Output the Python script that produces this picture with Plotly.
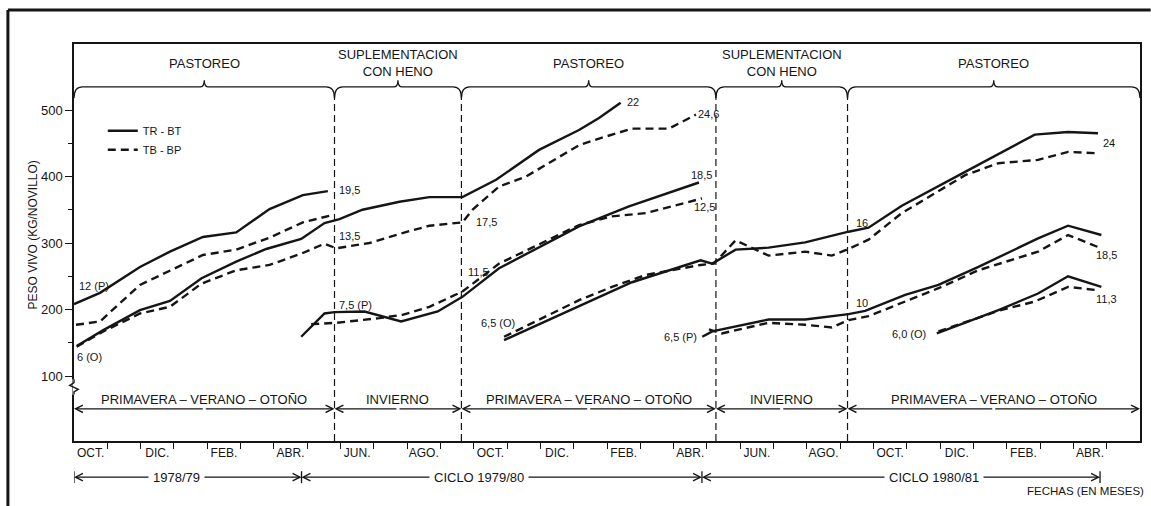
import plotly.graph_objects as go

FONT = "Liberation Sans, Arial, sans-serif"
INK = "#151515"

# ---------------- data: x = months since 1 Oct 1978, y = kg live weight / steer
# cohort "12 (P)"  (cycle 1978/79)
a_tr_x = [0.00, 0.78, 1.98, 2.88, 3.87, 4.87, 5.87, 6.87, 7.62]
a_tr_y = [208, 225, 264, 287, 309, 316, 351, 372, 378]
a_tb_x = [0.06, 0.78, 1.98, 2.88, 3.87, 4.87, 5.87, 6.87, 7.67]
a_tb_y = [177, 182, 237, 259, 282, 290, 308, 331, 341]
# cohort "6 (O)" 1978
b_tr_x = [0.08, 0.88, 1.98, 2.88, 3.83, 4.87, 5.77, 6.82, 7.52, 7.97, 8.66, 9.77,
          10.67, 11.66, 12.67, 13.96, 15.16, 15.76, 16.41]
b_tr_y = [145, 169, 199, 213, 247, 272, 291, 306, 330, 336, 350, 362,
          369, 369, 395, 440, 470, 488, 511]
b_tb_x = [0.08, 0.88, 1.98, 2.88, 3.83, 4.87, 5.87, 6.87, 7.52, 7.87, 8.87, 9.86,
          10.67, 11.66, 11.96, 12.76, 13.57, 15.16, 15.76, 16.75, 17.86, 18.67]
b_tb_y = [144, 167, 194, 204, 239, 259, 267, 285, 299, 292, 300, 315,
          326, 331, 350, 385, 400, 447, 457, 472, 472, 493]
# cohort "7,5 (P)"
c_tr_x = [6.82, 7.52, 7.82, 8.72, 9.82, 10.92, 11.66, 12.76, 15.16, 15.76, 16.66, 18.76]
c_tr_y = [159, 194, 196, 197, 182, 197, 219, 262, 325, 337, 355, 391]
c_tb_x = [7.12, 7.87, 9.17, 9.86, 10.67, 11.66, 12.76, 15.16, 15.76, 16.15, 17.17, 18.85]
c_tb_y = [178, 180, 187, 192, 204, 227, 269, 327, 335, 340, 345, 367]
# cohort "6,5 (O)" 1979
d_tr_x = [12.91, 15.16, 16.75, 18.81, 19.16, 19.86, 20.85, 21.95, 23.25, 23.85, 24.85,
          26.75, 28.84, 29.84, 30.74]
d_tr_y = [154, 205, 241, 274, 269, 290, 293, 301, 317, 323, 356, 407, 463, 467, 465]
d_tb_x = [12.91, 15.16, 16.15, 17.17, 18.81, 19.21, 19.86, 20.85, 21.95, 22.75, 23.25,
          23.85, 24.85, 26.75, 27.75, 28.94, 29.84, 30.74]
d_tb_y = [159, 214, 234, 252, 267, 269, 304, 281, 287, 281, 291, 305, 345, 402, 420,
          425, 437, 435]
# cohort "6,5 (P)"
e_tr_x = [18.86, 19.16, 20.85, 21.95, 23.25, 23.75, 24.95, 25.95, 27.15, 28.94, 29.84, 30.84]
e_tr_y = [159, 167, 185, 185, 193, 198, 222, 237, 264, 307, 326, 312]
e_tb_x = [19.06, 19.45, 20.85, 21.95, 22.75, 23.25, 23.85, 24.95, 25.95, 27.15, 28.94,
          29.84, 30.74]
e_tb_y = [170, 164, 180, 177, 173, 184, 190, 212, 232, 259, 287, 312, 294]
# cohort "6,0 (O)" 1980
f_tr_x = [25.90, 27.75, 28.94, 29.84, 30.84]
f_tr_y = [164, 199, 224, 250, 234]
f_tb_x = [25.95, 27.75, 28.84, 29.84, 30.74]
f_tb_y = [167, 198, 212, 234, 229]

# age labels (months of age): text, x, y, anchor
age_labels = [
    ("12 (P)", 0.09, 235, "left"), ("6 (O)", 0.03, 129, "left"),
    ("19,5", 7.88, 380, "left"), ("13,5", 7.88, 311, "left"),
    ("7,5 (P)", 7.88, 207, "left"), ("17,5", 12.01, 332, "left"),
    ("11,5", 11.78, 256, "left"), ("6,5 (O)", 12.16, 180, "left"),
    ("22", 16.54, 512, "left"), ("24,6", 18.67, 494, "left"),
    ("18,5", 18.46, 402, "left"), ("12,5", 18.55, 354, "left"),
    ("6,5 (P)", 18.76, 159, "right"), ("16", 23.40, 330, "left"),
    ("24", 30.83, 450, "left"), ("10", 23.40, 210, "left"),
    ("18,5", 30.62, 282, "left"), ("11,3", 30.62, 216, "left"),
    ("6,0 (O)", 25.65, 163, "right"),
]

month_labels = ["OCT.", "DIC.", "FEB.", "ABR.", "JUN.", "AGO."] * 2 + ["OCT.", "DIC.", "FEB.", "ABR."]
month_label_pos = [2 * i + 0.5 for i in range(len(month_labels))]
month_ticks = list(range(1, 32))
y_ticks = [100, 200, 300, 400, 500]
y_minor = [150, 250, 350, 450]

phase_bounds = [0, 7.82, 11.63, 19.27, 23.22, 32]
phase_names = ["PASTOREO", "SUPLEMENTACION<br>CON HENO", "PASTOREO",
               "SUPLEMENTACION<br>CON HENO", "PASTOREO"]
season_names = ["PRIMAVERA – VERANO – OTOÑO", "INVIERNO", "PRIMAVERA – VERANO – OTOÑO",
                "INVIERNO", "PRIMAVERA – VERANO – OTOÑO"]
cycle_bounds = [0, 6.83, 18.85, 30.8]
cycle_names = ["1978/79", "CICLO 1979/80", "CICLO 1980/81"]
cycle_label_x = [3.09, 12.16, 25.83]

X_RANGE = [0, 32]
Y_RANGE = [2.26, 599.25]

# ---------------- figure
fig = go.Figure()
series = [
    (a_tr_x, a_tr_y, "tr"), (a_tb_x, a_tb_y, "tb"),
    (b_tr_x, b_tr_y, "tr"), (b_tb_x, b_tb_y, "tb"),
    (c_tr_x, c_tr_y, "tr"), (c_tb_x, c_tb_y, "tb"),
    (d_tr_x, d_tr_y, "tr"), (d_tb_x, d_tb_y, "tb"),
    (e_tr_x, e_tr_y, "tr"), (e_tb_x, e_tb_y, "tb"),
    (f_tr_x, f_tr_y, "tr"), (f_tb_x, f_tb_y, "tb"),
]
shown = set()
for xs, ys, kind in series:
    fig.add_trace(go.Scatter(
        x=xs, y=ys, mode="lines",
        line=dict(color=INK, width=2.4, dash="solid" if kind == "tr" else "8px,5px"),
        name="TR - BT" if kind == "tr" else "TB - BP",
        legendgroup=kind, showlegend=kind not in shown, hoverinfo="skip"))
    shown.add(kind)

shapes = []
annotations = []

# paper-y levels for decorations
Y_BRACE = 0.892
Y_TIP = 0.864
Y_CUSP = 0.909
Y_PHASE_TXT = 0.952
Y_SEASON_TXT = 0.104
Y_SEASON_ARR = 0.081
Y_CYCLE = -0.091

# boundaries: vertical dashed lines
for b in phase_bounds[1:-1]:
    shapes.append(dict(type="line", xref="x", yref="paper", x0=b, x1=b, y0=0, y1=Y_TIP,
                       line=dict(color=INK, width=1.2, dash="7px,4px"), layer="above"))

# curly braces + phase labels
r, s = 0.25, 0.13
for i in range(len(phase_names)):
    a, b = phase_bounds[i], phase_bounds[i + 1]
    c = (a + b) / 2
    path = (f"M {a},{Y_TIP} Q {a},{Y_BRACE} {a + r},{Y_BRACE} L {c - s},{Y_BRACE} "
            f"Q {c},{Y_BRACE} {c},{Y_CUSP} Q {c},{Y_BRACE} {c + s},{Y_BRACE} "
            f"L {b - r},{Y_BRACE} Q {b},{Y_BRACE} {b},{Y_TIP}")
    shapes.append(dict(type="path", xref="x", yref="paper", path=path,
                       line=dict(color=INK, width=1.3), layer="above"))
    annotations.append(dict(x=c, y=Y_PHASE_TXT, xref="x", yref="paper", text=phase_names[i],
                            showarrow=False, font=dict(size=13), xanchor="center",
                            yanchor="middle"))

# season arrows
for i in range(len(season_names)):
    a, b = phase_bounds[i], phase_bounds[i + 1]
    c = (a + b) / 2
    for end in (a, b):
        annotations.append(dict(x=end, y=Y_SEASON_ARR, xref="x", yref="paper", ax=c, ay=0,
                                axref="x", ayref="pixel", text="", showarrow=True,
                                arrowhead=5, arrowsize=1.2, arrowwidth=1.2, arrowcolor=INK))
    annotations.append(dict(x=c, y=Y_SEASON_TXT, xref="x", yref="paper", text=season_names[i],
                            showarrow=False, font=dict(size=13), yanchor="middle"))

# cycle arrows (below axis)
for i in range(len(cycle_names)):
    a, b = cycle_bounds[i], cycle_bounds[i + 1]
    c = cycle_label_x[i]
    for end in (a, b):
        annotations.append(dict(x=end, y=Y_CYCLE, xref="x", yref="paper", ax=c, ay=0,
                                axref="x", ayref="pixel", text="", showarrow=True,
                                arrowhead=5, arrowsize=1.2, arrowwidth=1.2, arrowcolor=INK))
for b in cycle_bounds:
    shapes.append(dict(type="line", xref="x", yref="paper", x0=b, x1=b,
                       y0=Y_CYCLE - 0.015, y1=Y_CYCLE + 0.015, line=dict(color=INK, width=1.3)))
for i in range(len(cycle_names)):
    annotations.append(dict(x=cycle_label_x[i], y=Y_CYCLE, xref="x", yref="paper",
                            text=cycle_names[i], showarrow=False, font=dict(size=13),
                            bgcolor="white", borderpad=4, yanchor="middle"))

annotations.append(dict(x=1.0055, y=-0.126, xref="paper", yref="paper",
                        text="FECHAS (EN MESES)", showarrow=False, font=dict(size=11.5),
                        xanchor="right", yanchor="middle"))

# y-axis title
annotations.append(dict(x=-0.0385, y=0.52, xref="paper", yref="paper",
                        text="PESO VIVO (KG/NOVILLO)", textangle=-90, showarrow=False,
                        font=dict(size=12), xanchor="center", yanchor="middle"))

# age labels
for txt, x, y, anc in age_labels:
    annotations.append(dict(x=x, y=y, xref="x", yref="y", text=txt, showarrow=False,
                            font=dict(size=11), xanchor=anc, yanchor="middle"))

# axis break marker
shapes.append(dict(type="line", xref="paper", yref="y", x0=0, x1=0, y0=72, y1=95,
                   line=dict(color="white", width=3), layer="above"))
shapes.append(dict(type="path", xref="paper", yref="y",
                   path="M 0,95 L 0,90 L -0.004,86 L 0.004,80 L 0,76 L 0,72",
                   line=dict(color=INK, width=1.4), layer="above"))

# outer frame of the scanned figure
shapes.append(dict(type="line", xref="paper", yref="paper", x0=-0.062, x1=1.01,
                   y0=1.0856, y1=1.0856, line=dict(color=INK, width=3)))
shapes.append(dict(type="line", xref="paper", yref="paper", x0=-0.062, x1=-0.062,
                   y0=1.0856, y1=-0.2, line=dict(color=INK, width=3)))

fig.update_layout(
    width=1151, height=506,
    margin=dict(l=74, r=9, t=44, b=65),
    paper_bgcolor="white", plot_bgcolor="white",
    font=dict(family=FONT, size=12, color=INK),
    showlegend=True,
    legend=dict(x=0.027, y=0.818, xanchor="left", yanchor="top", tracegroupgap=0,
                bgcolor="rgba(0,0,0,0)", font=dict(size=11), itemwidth=30),
    xaxis=dict(range=X_RANGE, showgrid=False, zeroline=False, showline=True,
               linecolor=INK, linewidth=1.5, mirror=True,
               tickmode="array", tickvals=month_label_pos, ticktext=month_labels,
               ticks="outside", ticklen=0, tickfont=dict(size=12),
               minor=dict(tickmode="array", tickvals=month_ticks, ticks="outside",
                          ticklen=6, tickwidth=1.2, tickcolor=INK, showgrid=False)),
    yaxis=dict(range=Y_RANGE, showgrid=False, zeroline=False, showline=True,
               linecolor=INK, linewidth=1.5, mirror=True,
               tickmode="array", tickvals=y_ticks, ticks="outside", ticklen=7,
               tickwidth=1.2, tickcolor=INK, tickfont=dict(size=13),
               minor=dict(tickmode="array", tickvals=y_minor, ticks="outside",
                          ticklen=4, tickwidth=1, tickcolor=INK, showgrid=False)),
    shapes=shapes, annotations=annotations,
)

fig.write_html("out.html")
